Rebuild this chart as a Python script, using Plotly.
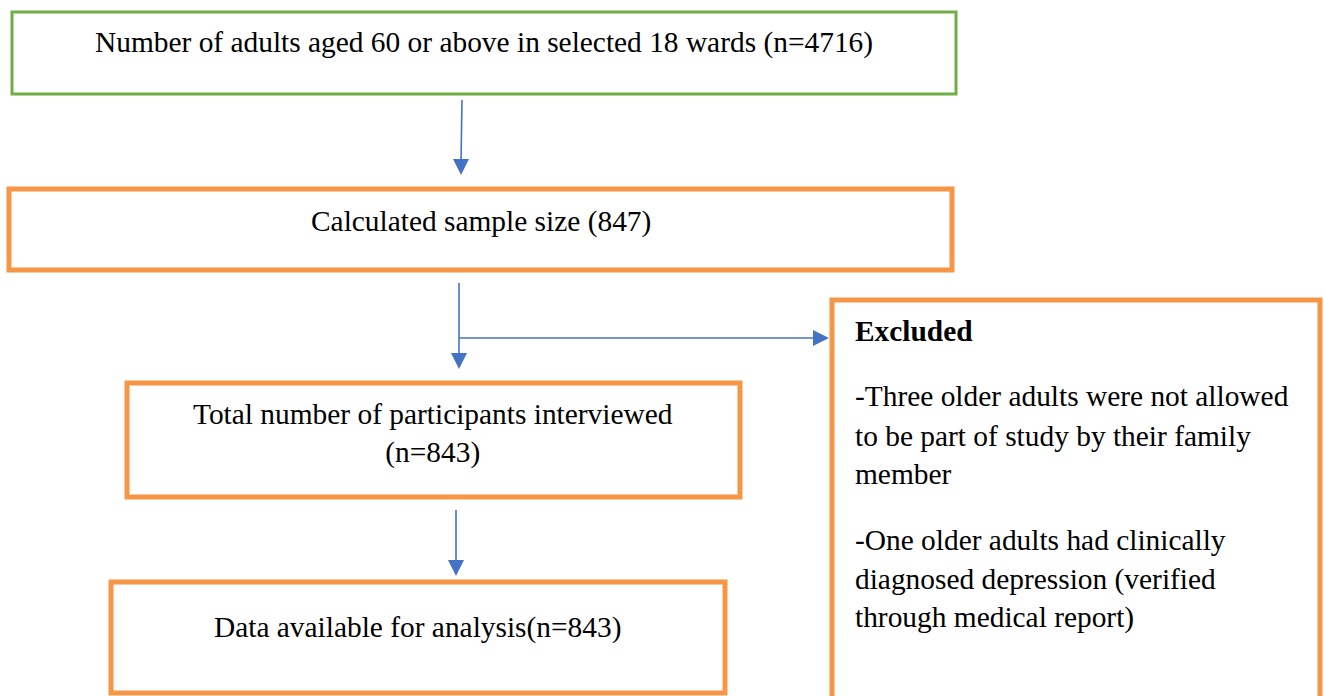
import plotly.graph_objects as go

# ---- content ----
box_texts = [
    "Number of adults aged 60 or above in selected 18 wards (n=4716)",
    "Calculated sample size (847)",
    "Total number of participants interviewed<br>(n=843)",
    "Data available for analysis(n=843)",
]
excluded_title = "Excluded"
excluded_lines = [
    "-Three older adults were not allowed",
    "to be part of study by their family",
    "member",
    "",
    "-One older adults had clinically",
    "diagnosed depression (verified",
    "through medical report)",
]

# ---- layout (pixel space, y downward) ----
W, H = 1325, 696
boxes = [  # x0, y0, x1, y1, colour, width
    (12, 12, 956, 94, "#70AD47", 3),
    (9, 189, 952, 270, "#F79646", 5),
    (127, 383, 740, 497, "#F79646", 5),
    (111, 582, 725, 693, "#F79646", 5),
    (832, 300, 1320, 700, "#F79646", 5),
]
text_pos = [(484, 42), (481, 221), (433, 433), (417, 627)]
FONT = "Liberation Serif, Times New Roman, serif"
FS = 29.4
BLUE = "#4472C4"
HEAD_L, HEAD_W = 16, 8

fig = go.Figure()
shapes = []
for x0, y0, x1, y1, c, w in boxes:
    shapes.append(dict(type="rect", x0=x0, y0=y0, x1=x1, y1=y1,
                       line=dict(color=c, width=w), fillcolor="rgba(0,0,0,0)",
                       xref="x", yref="y"))

def arrow_line(x0, y0, x1, y1):
    shapes.append(dict(type="line", x0=x0, y0=y0, x1=x1, y1=y1,
                       line=dict(color=BLUE, width=1.6), xref="x", yref="y"))

def head_down(x, tip):
    shapes.append(dict(type="path",
                       path=f"M {x-HEAD_W} {tip-HEAD_L} L {x+HEAD_W} {tip-HEAD_L} L {x} {tip} Z",
                       fillcolor=BLUE, line=dict(color=BLUE, width=0), xref="x", yref="y"))

def head_right(tip, y):
    shapes.append(dict(type="path",
                       path=f"M {tip-HEAD_L} {y-HEAD_W} L {tip-HEAD_L} {y+HEAD_W} L {tip} {y} Z",
                       fillcolor=BLUE, line=dict(color=BLUE, width=0), xref="x", yref="y"))

arrow_line(462, 100, 461, 162); head_down(461, 175)
arrow_line(459, 283, 459, 356); head_down(459, 369)
arrow_line(459, 338, 815, 338); head_right(829, 338)
arrow_line(456, 510, 456, 562); head_down(456, 576)

annotations = []
for t, (x, y) in zip(box_texts, text_pos):
    annotations.append(dict(x=x, y=y, text=t, showarrow=False, xref="x", yref="y",
                            font=dict(family=FONT, size=FS, color="black"),
                            align="center", xanchor="center", yanchor="middle"))

annotations.append(dict(x=853, y=331, text=f"<b>{excluded_title}</b>", showarrow=False,
                        xref="x", yref="y", xanchor="left", yanchor="middle",
                        font=dict(family=FONT, size=FS, color="black")))
line_y = [396, 436, 474, 507, 540, 579, 617]
for t, y in zip(excluded_lines, line_y):
    if t:
        annotations.append(dict(x=853, y=y, text=t, showarrow=False, xref="x", yref="y",
                                xanchor="left", yanchor="middle",
                                font=dict(family=FONT, size=FS, color="black")))

fig.update_layout(
    width=W, height=H, margin=dict(l=0, r=0, t=0, b=0),
    plot_bgcolor="white", paper_bgcolor="white",
    xaxis=dict(range=[0, W], visible=False, fixedrange=True),
    yaxis=dict(range=[H, 0], visible=False, fixedrange=True),
    shapes=shapes, annotations=annotations, showlegend=False,
)
fig.write_html("out.html", config={"displayModeBar": False},
               post_script="document.body.style.margin='0';document.body.style.padding='0';document.body.style.overflow='hidden';")
